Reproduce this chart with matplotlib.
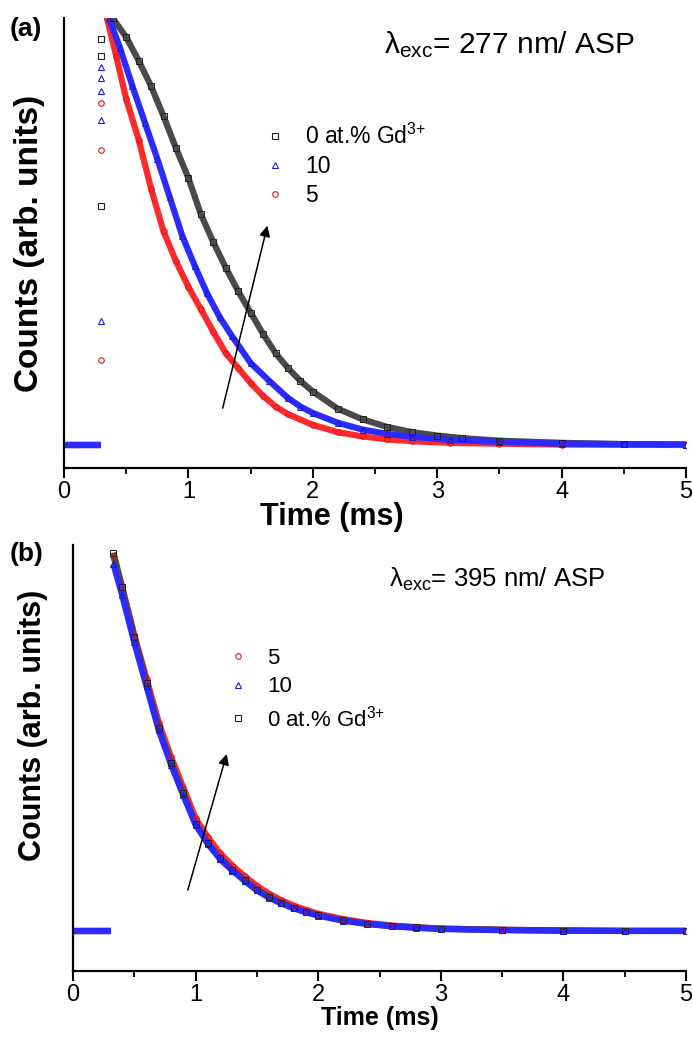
import numpy as np
import matplotlib.pyplot as plt
from matplotlib.lines import Line2D
from matplotlib.ticker import MultipleLocator

plt.rcParams['font.family'] = ['Liberation Sans', 'DejaVu Sans']
plt.rcParams['mathtext.fontset'] = 'custom'
plt.rcParams['mathtext.rm'] = 'Liberation Sans'
plt.rcParams['mathtext.it'] = 'Liberation Sans'

# ---------------- (a) excitation 277 nm ----------------
# flat background before the pulse
a_base_t = [0.00, 0.05, 0.10, 0.15, 0.20, 0.25, 0.30]
a_base_y = [0.0, 0.0, 0.0, 0.0, 0.0, 0.0, 0.0]

a_t_0 = [0.39, 0.50, 0.60, 0.70, 0.80, 0.90, 1.00, 1.10, 1.20, 1.30, 1.40,
         1.50, 1.60, 1.70, 1.80, 1.90, 2.00, 2.20, 2.40, 2.60, 2.80, 3.00, 3.20, 3.50, 4.00, 4.50, 5.00]
a_y_0 = [1.00, 0.955, 0.90, 0.84, 0.77, 0.695, 0.625, 0.54, 0.475, 0.415, 0.36,
         0.31, 0.26, 0.215, 0.18, 0.15, 0.125, 0.085, 0.06, 0.042, 0.03, 0.022, 0.016, 0.010, 0.005, 0.002, 0.001]

a_t_10 = [0.36, 0.45, 0.55, 0.65, 0.75, 0.85, 0.95, 1.05, 1.15, 1.25, 1.35,
          1.50, 1.65, 1.80, 1.90, 2.00, 2.20, 2.40, 2.60, 2.80, 3.10, 3.50, 4.00, 4.50, 5.00]
a_y_10 = [1.00, 0.93, 0.84, 0.755, 0.67, 0.58, 0.49, 0.42, 0.355, 0.30, 0.255,
          0.192, 0.15, 0.11, 0.09, 0.075, 0.052, 0.036, 0.026, 0.019, 0.012, 0.007, 0.003, 0.002, 0.001]

a_t_5 = [0.345, 0.42, 0.50, 0.60, 0.70, 0.80, 0.90, 1.00, 1.10, 1.20, 1.30,
         1.40, 1.50, 1.60, 1.70, 1.80, 2.00, 2.20, 2.40, 2.60, 2.80, 3.10, 3.50, 4.00, 5.00]
a_y_5 = [1.00, 0.91, 0.81, 0.715, 0.60, 0.50, 0.43, 0.37, 0.318, 0.265, 0.215,
         0.18, 0.145, 0.115, 0.09, 0.072, 0.047, 0.03, 0.02, 0.013, 0.009, 0.005, 0.003, 0.001, 0.0]

# points on the rising edge
a_rise_t_0 = [0.30, 0.30, 0.30]
a_rise_y_0 = [0.56, 0.91, 0.95]
a_rise_t_10 = [0.30, 0.30, 0.30, 0.30, 0.30]
a_rise_y_10 = [0.29, 0.76, 0.83, 0.86, 0.885]
a_rise_t_5 = [0.30, 0.30, 0.30]
a_rise_y_5 = [0.20, 0.69, 0.80]

# ---------------- (b) excitation 395 nm ----------------
b_base_t = [0.00, 0.05, 0.10, 0.15, 0.20, 0.25, 0.31]
b_base_y = [0.0, 0.0, 0.0, 0.0, 0.0, 0.0, 0.0]

b_t = [0.33, 0.40, 0.50, 0.60, 0.70, 0.80, 0.90, 1.00, 1.10, 1.20, 1.30, 1.40,
       1.50, 1.60, 1.70, 1.80, 1.90, 2.00, 2.20, 2.40, 2.60, 2.80, 3.00, 3.50, 4.00, 4.50, 5.00]
b_y_0 = [0.99, 0.90, 0.77, 0.65, 0.53, 0.44, 0.36, 0.28, 0.23, 0.19, 0.16, 0.133,
         0.108, 0.089, 0.073, 0.06, 0.05, 0.041, 0.028, 0.019, 0.013, 0.009, 0.006, 0.003, 0.001, 0.0, 0.0]
b_y_10 = [0.96, 0.88, 0.755, 0.64, 0.525, 0.435, 0.355, 0.278, 0.228, 0.188, 0.158, 0.131,
          0.106, 0.087, 0.072, 0.059, 0.049, 0.040, 0.027, 0.018, 0.012, 0.008, 0.005, 0.002, 0.001, 0.0, 0.0]
b_y_5 = [0.98, 0.90, 0.775, 0.66, 0.545, 0.455, 0.375, 0.295, 0.245, 0.203, 0.171, 0.143,
         0.118, 0.097, 0.080, 0.066, 0.055, 0.045, 0.031, 0.021, 0.014, 0.010, 0.006, 0.003, 0.001, 0.0, 0.0]

styles = {
    '0': dict(line='#4a4a4a', edge='#222222', marker='s'),
    '10': dict(line='#2b2bff', edge='#1a1ad0', marker='^'),
    '5': dict(line='#ff2b2b', edge='#e01515', marker='o'),
}
legend_labels = {'0': r'0 at.% Gd$^{3{+}}$', '10': '10', '5': '5'}


def draw_series(ax, t, y, key):
    st = styles[key]
    ax.plot(t, y, color=st['line'], lw=4.5, solid_capstyle='butt', zorder=2)
    ax.plot(t, y, ls='none', marker=st['marker'], ms=4, mfc='none',
            mec=st['edge'], mew=0.7, zorder=3)


def draw_base(ax, t, y, key):
    ax.plot(t, y, color=styles[key]['line'], lw=4.5, solid_capstyle='butt', zorder=2)


def draw_rise(ax, t, y, key):
    st = styles[key]
    ax.plot(t, y, ls='none', marker=st['marker'], ms=4, mfc='none',
            mec=st['edge'], mew=0.8, zorder=3)


def style_axes(ax, ylim, xlabel_size, ylabel_size):
    ax.set_xlim(0, 5)
    ax.set_ylim(*ylim)
    ax.spines['top'].set_visible(False)
    ax.spines['right'].set_visible(False)
    ax.spines['left'].set_linewidth(1.6)
    ax.spines['bottom'].set_linewidth(1.6)
    ax.set_yticks([])
    ax.xaxis.set_major_locator(MultipleLocator(1))
    ax.xaxis.set_minor_locator(MultipleLocator(0.5))
    ax.tick_params(axis='x', which='major', direction='out', length=7, width=1.5, labelsize=17, pad=2)
    ax.tick_params(axis='x', which='minor', direction='out', length=4, width=1.3)
    ax.set_xlabel('Time (ms)', fontsize=xlabel_size, fontweight='bold', labelpad=0)
    ax.set_ylabel('Counts (arb. units)', fontsize=ylabel_size, fontweight='bold')


def make_legend(ax, keys, anchor, spacing, size):
    handles = [Line2D([], [], ls='none', marker=styles[k]['marker'], ms=4, mfc='none',
                      mec=styles[k]['edge'], mew=0.8) for k in keys]
    ax.legend(handles, [legend_labels[k] for k in keys], loc='upper left', bbox_to_anchor=anchor,
              frameon=False, fontsize=size, handlelength=0.8, handletextpad=0.9,
              labelspacing=spacing, borderaxespad=0)


fig = plt.figure(figsize=(6.93, 10.41), dpi=100)

ax1 = fig.add_axes([0.0924, 0.5504, 0.8976, 0.4323])
for key in ['0', '5', '10']:
    draw_base(ax1, a_base_t, a_base_y, key)
draw_series(ax1, a_t_0, a_y_0, '0')
draw_series(ax1, a_t_5, a_y_5, '5')
draw_series(ax1, a_t_10, a_y_10, '10')
draw_rise(ax1, a_rise_t_0, a_rise_y_0, '0')
draw_rise(ax1, a_rise_t_10, a_rise_y_10, '10')
draw_rise(ax1, a_rise_t_5, a_rise_y_5, '5')
style_axes(ax1, (-0.054, 1.0), 22, 24)
ax1.yaxis.set_label_coords(-0.03, 0.5)
ax1.xaxis.set_label_coords(0.43, -0.075)
ax1.annotate('', xy=(1.64, 0.52), xytext=(1.27, 0.08),
             arrowprops=dict(arrowstyle='-|>', lw=1.1, color='k', mutation_scale=16))
ax1.text(0.515, 0.94, r'$\mathrm{\lambda_{exc}}$= 277 nm/ ASP', transform=ax1.transAxes,
         fontsize=21.5, va='center', ha='left')
make_legend(ax1, ['0', '10', '5'], (0.31, 0.785), 0.25, 16.5)
fig.text(0.014, 0.972, '(a)', fontsize=19, fontweight='bold', va='center', ha='left')

ax2 = fig.add_axes([0.1053, 0.0672, 0.8847, 0.4093])
for key in ['5', '0', '10']:
    draw_base(ax2, b_base_t, b_base_y, key)
draw_series(ax2, b_t, b_y_5, '5')
draw_series(ax2, b_t, b_y_0, '0')
draw_series(ax2, b_t, b_y_10, '10')
style_axes(ax2, (-0.105, 1.01), 18, 22)
ax2.yaxis.set_label_coords(-0.04, 0.577)
ax2.annotate('', xy=(1.26, 0.47), xytext=(0.93, 0.10),
             arrowprops=dict(arrowstyle='-|>', lw=1.1, color='k', mutation_scale=16))
ax2.text(0.515, 0.92, r'$\mathrm{\lambda_{exc}}$= 395 nm/ ASP', transform=ax2.transAxes,
         fontsize=18.5, va='center', ha='left')
make_legend(ax2, ['5', '10', '0'], (0.24, 0.78), 0.35, 16)
fig.text(0.014, 0.468, '(b)', fontsize=19, fontweight='bold', va='center', ha='left')

fig.savefig('out.png', dpi=100, facecolor='white')
